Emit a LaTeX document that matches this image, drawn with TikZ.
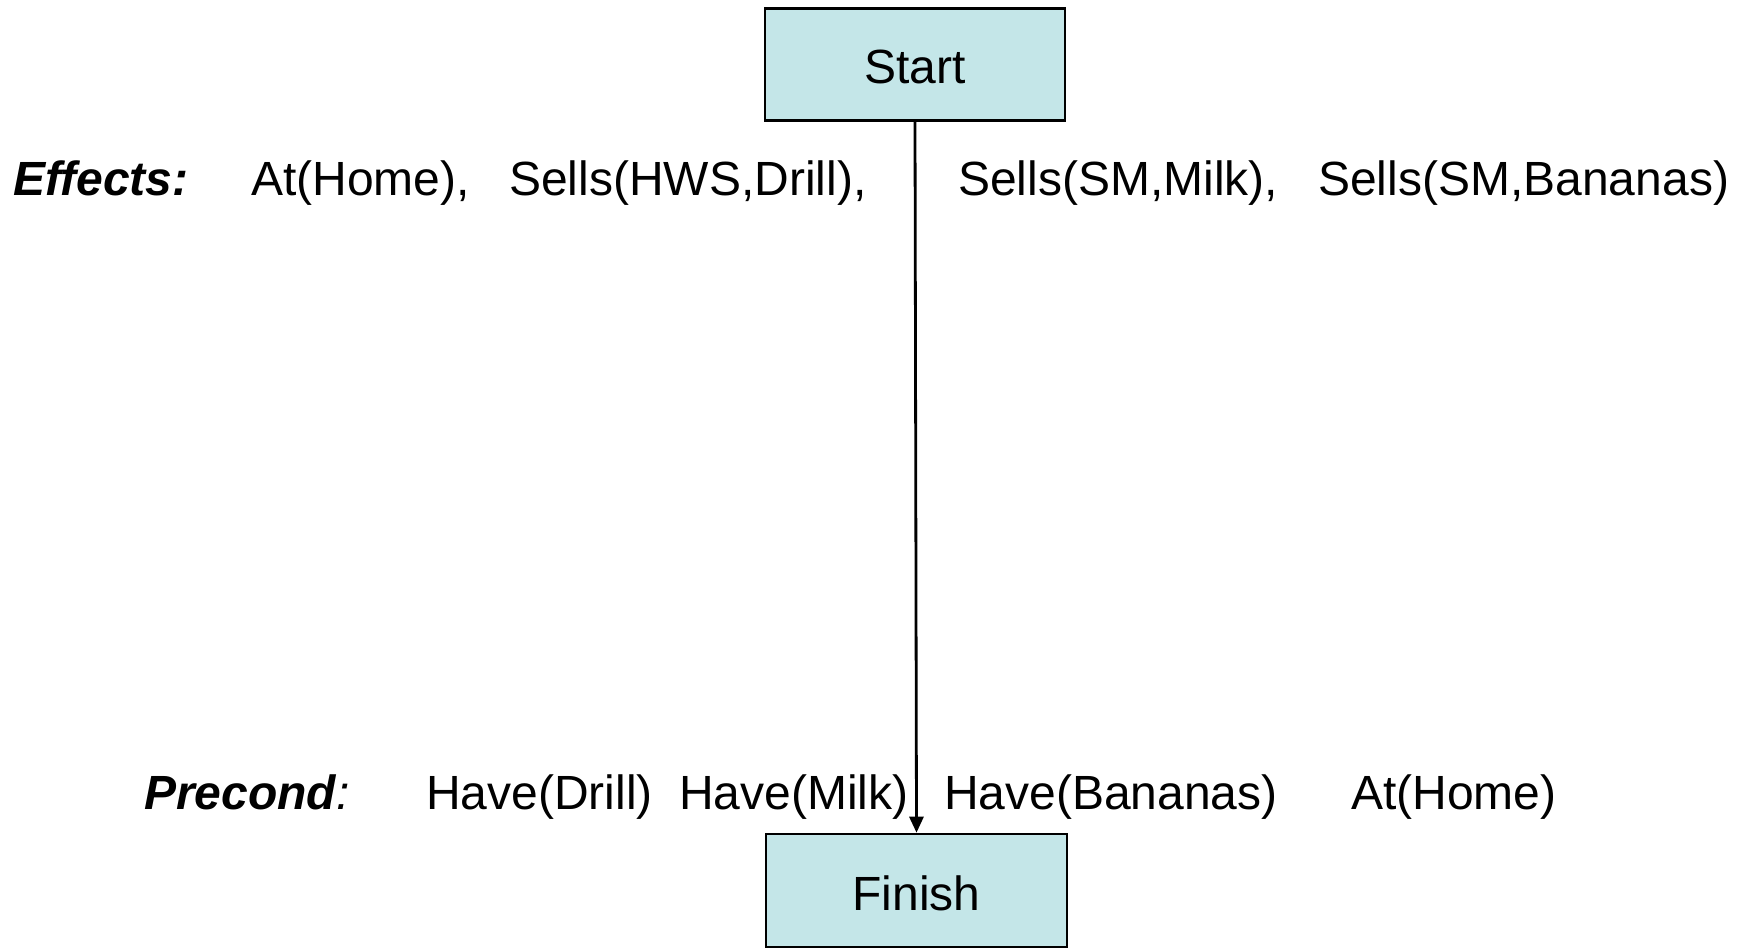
\documentclass[tikz,border=0pt]{standalone}
\usepackage{fontspec}
\setmainfont{Liberation Sans}
\usetikzlibrary{arrows.meta}
\definecolor{boxfill}{RGB}{196,230,232}
\begin{document}
\begin{tikzpicture}[x=1pt,y=-1pt,
  every node/.style={font=\fontsize{48}{56}\selectfont, inner sep=0pt},
  stepbox/.style={draw=black, line width=2.6pt, fill=boxfill, minimum width=300pt, minimum height=112pt, text depth=0pt},
  lbl/.style={anchor=base west},
  head/.style={anchor=base west, font=\fontsize{48}{56}\selectfont\bfseries\itshape},
  link/.style={line width=2.8pt, -{Triangle[length=16pt,width=14pt]}}]
\useasboundingbox (0,0) rectangle (1739,950);

% plan nodes
\node[stepbox] (start) at (915,64.5) {};
\node[stepbox, minimum width=301pt, minimum height=113pt] (finish) at (916.5,890.5) {};
\node[anchor=base] (starttext) at (915,84) {Start};
\node[anchor=base] (finishtext) at (916.5,910) {Finish};

% effects of the start step
\node[head] (effects) at (13,195) {Effects:};
\node[lbl] (e1) at (251,195) {At(Home),};
\node[lbl] (e2) at (509,195) {Sells(HWS,Drill),};
\node[lbl] (e3) at (958,195) {Sells(SM,Milk),};
\node[lbl] (e4) at (1318,195) {Sells(SM,Bananas)};

% preconditions of the finish step
\node[head] (precond) at (144,809) {Precond\textmd{:}};
\node[lbl] (p1) at (426,809) {Have(Drill)};
\node[lbl] (p2) at (679,809) {Have(Milk)};
\node[lbl] (p3) at (944,809) {Have(Bananas)};
\node[lbl] (p4) at (1351,809) {At(Home)};

% ordering link
\draw[link] (start.south) -- (finish.north);
\end{tikzpicture}
\end{document}
